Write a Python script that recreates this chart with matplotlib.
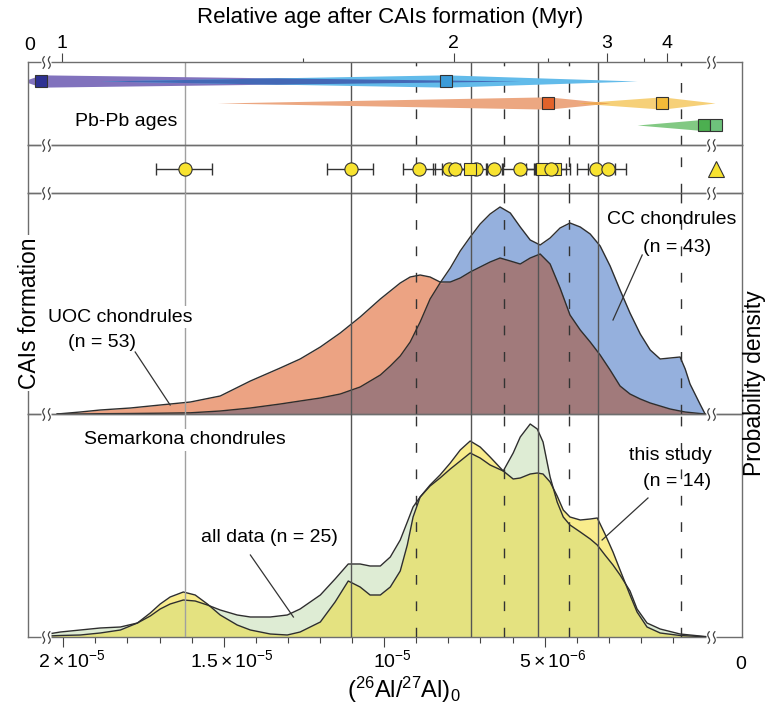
import numpy as np
import matplotlib.pyplot as plt
from matplotlib.path import Path
from matplotlib.ticker import FixedLocator, NullFormatter

plt.rcParams['font.family'] = ['Liberation Sans', 'DejaVu Sans']
plt.rcParams['mathtext.fontset'] = 'custom'
plt.rcParams['mathtext.rm'] = 'Liberation Sans'
plt.rcParams['mathtext.it'] = 'Liberation Sans:italic'
plt.rcParams['mathtext.bf'] = 'Liberation Sans:bold'
plt.rcParams['mathtext.default'] = 'regular'

E = 1e-6   # every (26Al/27Al)0 value below is in units of 1e-6

# relative age scale: (26Al/27Al)0 = R0 * exp(-t / tau)
R0 = 51.3
TAU = 1.064
age_ticks = [1, 2, 3, 4]
age_minor = [1.5, 2.5, 3.5]

ratio_ticks = [20, 15, 10, 5]
ratio_labels = [r'$2\times10^{-5}$', r'$1.5\times10^{-5}$', r'$10^{-5}$', r'$5\times10^{-6}$']

# reference lines through all panels
solid_lines = [16.20, 11.03, 7.29, 5.20, 3.33]
dashed_lines = [9.00, 6.26, 4.24, 0.75]

# Pb-Pb ages: spindles (row, best value, left tail, right tail)
pb_row = [1, 1, 2, 2, 3]
pb_best = [20.69, 8.07, 4.89, 1.34, -0.15]
pb_left = [21.25, 18.85, 15.20, 3.99, 2.12]
pb_right = [5.76, 2.12, 2.96, -0.31, -0.50]
pb_fill = ['#8172bd', '#62bbea', '#eca781', '#f6d078', '#82c983']
# Pb-Pb best-value squares
sq_val = [20.69, 8.07, 4.89, 1.34, 0.03, -0.34]
sq_row = [1, 1, 2, 2, 3, 3]
sq_col = ['#2e3192', '#3b9bd8', '#e2622a', '#f3bb38', '#4caf50', '#6ec27c']

# Al-Mg chondrule data (value, upper, lower) in draw order
pt_val = [16.20, 11.03, 8.91, 7.98, 7.79, 7.13, 7.32, 6.57, 5.76, 4.67, 5.08, 4.80, 3.40, 3.02]
pt_hi = [17.04, 11.71, 9.41, 8.47, 8.19, 7.45, 7.63, 6.82, 6.23, 5.14, 5.45, 5.26, 3.99, 3.58]
pt_lo = [15.30, 10.28, 8.41, 7.48, 7.38, 6.82, 7.01, 6.32, 5.23, 4.17, 4.58, 4.27, 2.80, 2.40]
pt_mk = ['o', 'o', 'o', 'o', 'o', 'o', 's', 'o', 'o', 's', 's', 'o', 'o', 'o']
tri_val = -0.34

# probability densities: CC vs UOC chondrules
cc_x = [20.19, 19.47, 18.85, 17.91, 16.98, 16.04, 15.11, 14.17, 13.24, 12.62, 11.99, 11.37,
        10.75, 10.12, 9.81, 9.50, 9.19, 8.88, 8.57, 8.26, 7.94, 7.63, 7.32, 7.01, 6.70,
        6.39, 6.07, 5.76, 5.45, 5.14, 4.83, 4.52, 4.21, 3.89, 3.58, 3.27, 2.96, 2.65,
        2.34, 2.02, 1.71, 1.40, 1.09, 0.78, 0.62, 0.47, 0.16, 0.00]
uoc_h = [0, 2, 4, 6, 9, 12, 18, 33, 46, 55, 67, 81, 97, 115, 123, 131, 137, 139, 137, 132,
         132, 136, 142, 147, 152, 156, 153, 150, 156, 160, 150, 126, 99, 84, 72, 59, 44,
         28, 20, 15, 11, 8, 5, 3, 2, 1.5, 0.5, 0]
cc_h = [0, 0, 0.3, 0.5, 0.8, 1.2, 3, 6, 10, 13, 16, 20, 27, 39, 48, 58, 72, 92, 115, 131,
        146, 163, 177, 190, 200, 207, 201, 187, 174, 169, 176, 186, 191, 187, 180, 168,
        148, 124, 101, 80, 64, 55, 56, 57, 45, 30, 10, 0]

# probability densities: Semarkona chondrules
sem_x = [20.47, 20.09, 19.47, 18.85, 18.22, 17.69, 17.29, 16.98, 16.67, 16.26, 15.89,
         15.51, 15.11, 14.58, 14.17, 13.55, 13.02, 12.62, 11.99, 11.53, 11.12, 10.75,
         10.44, 10.12, 9.81, 9.50, 9.28, 9.10, 8.88, 8.57, 8.26, 7.94, 7.63, 7.32, 7.01,
         6.70, 6.29, 5.98, 5.76, 5.45, 5.23, 5.05, 4.83, 4.61, 4.42, 4.21, 3.89, 3.58,
         3.36, 3.12, 2.87, 2.65, 2.34, 2.12, 1.81, 1.40, 0.78, 0.16, -0.16]
this_h = [1, 1.5, 2, 4, 7, 14, 24, 33, 40, 45, 42, 33, 22, 12, 7, 3, 2, 5, 15, 35, 56, 50,
          42, 42, 50, 66, 92, 120, 140, 152, 162, 174, 187, 196, 190, 180, 166, 158, 159,
          163, 164, 163, 155, 141, 127, 120, 117, 118, 119, 103, 85, 67, 42, 25, 10, 4,
          1.5, 0.5, 0]
all_h = [3, 5, 7, 9, 10, 14, 21, 28, 33, 37, 36, 32, 27, 22, 20, 20, 22, 28, 42, 58, 73,
         73, 71, 71, 80, 97, 115, 130, 140, 151, 159, 168, 176, 184, 179, 172, 166, 184,
         200, 213, 208, 195, 160, 135, 120, 112, 105, 98, 92, 82, 72, 62, 46, 28, 14, 8,
         3, 1, 0]


def px(x, y):
    return x / 781, 1 - y / 715


fig = plt.figure(figsize=(7.81, 7.15), dpi=100)


def band(top, bot):
    return [28 / 781, 1 - bot / 715, 714 / 781, (bot - top) / 715]


axA = fig.add_axes(band(62, 145))
axB = fig.add_axes(band(145, 193))
axC = fig.add_axes(band(193, 414))
axD = fig.add_axes(band(414, 637))
axes = [axA, axB, axC, axD]

for i, ax in enumerate(axes):
    ax.set_xlim(21.1 * E, -1.15 * E)
    ax.set_facecolor('none')
    for s in ax.spines.values():
        s.set_color('#6e6e6e')
        s.set_linewidth(1.0)
    ax.tick_params(which='both', left=False, right=False, labelleft=False,
                   bottom=False, labelbottom=False, top=False, labeltop=False)
    zl = 1 if i < 2 else 4
    for k, v in enumerate(solid_lines):
        ax.axvline(v * E, color='#a0a0a0' if k == 0 else '#555555', lw=1.0, zorder=zl)
    for v in dashed_lines:
        ax.axvline(v * E, color='#333333', lw=1.0, ls=(0, (7, 12)), zorder=zl)

# ---- panel A: Pb-Pb ages ----
axA.set_ylim(3.91, 0.136)
xs = np.linspace(-1.2, 21.4, 3000)
HW = 0.28
hws = []
for i in range(len(pb_best)):
    hw = np.interp(xs, [pb_right[i], pb_best[i], pb_left[i]], [0, HW, 0], left=0, right=0)
    hws.append(hw)
    axA.fill_between(xs * E, pb_row[i] - hw, pb_row[i] + hw, where=hw > 0,
                     color=pb_fill[i], lw=0, zorder=2)
ov1 = np.minimum(hws[0], hws[1])
axA.fill_between(xs * E, 1 - ov1, 1 + ov1, where=ov1 > 0, color='#4368b6', lw=0, zorder=2)
ov2 = np.minimum(hws[2], hws[3])
axA.fill_between(xs * E, 2 - ov2, 2 + ov2, where=ov2 > 0, color='#eda553', lw=0, zorder=2)
for v, r, c in zip(sq_val, sq_row, sq_col):
    axA.plot(v * E, r, 's', ms=8, mfc=c, mec='#333333', mew=0.8, zorder=5, clip_on=False)

axA.tick_params(which='both', top=True, labeltop=True, direction='out', color='#444444')
axA.tick_params(which='major', length=6.5, width=0.8, pad=0.5, labelsize=14)
axA.tick_params(which='minor', length=3, width=0.8)
axA.xaxis.set_major_locator(FixedLocator([R0 * np.exp(-t / TAU) * E for t in age_ticks]))
axA.xaxis.set_minor_locator(FixedLocator([R0 * np.exp(-t / TAU) * E for t in age_minor]))
axA.set_xticklabels([str(t) for t in age_ticks])
axA.xaxis.set_minor_formatter(NullFormatter())
axA.annotate('0', xy=(0, 1), xycoords='axes fraction', xytext=(1.5, 5.5),
             textcoords='offset points', ha='center', va='bottom', fontsize=14)

# ---- panel B: Al-Mg data ----
axB.set_ylim(0, 1)
for v, hi, lo in zip(pt_val, pt_hi, pt_lo):
    axB.errorbar(v * E, 0.5, xerr=[[(hi - v) * E], [(v - lo) * E]], fmt='none',
                 ecolor='#333333', elinewidth=1.0, capsize=4.5, capthick=1.0, zorder=3)
for v, m in zip(pt_val, pt_mk):
    axB.plot(v * E, 0.5, m, ms=9.5 if m == 'o' else 8.5, mfc='#f8e330',
             mec='#333333', mew=0.8, zorder=4)
axB.plot(tri_val * E, 0.5, '^', ms=11, mfc='#f8e330', mec='#333333', mew=0.8, zorder=4)

# ---- panel C: CC vs UOC ----
cx = np.array(cc_x) * E
uoc = np.array(uoc_h)
cc = np.array(cc_h)
axC.set_ylim(0, 221)
axC.fill_between(cx, 0, cc, color='#95b0dd', lw=0, zorder=2)
axC.fill_between(cx, 0, uoc, color='#eca383', lw=0, zorder=2)
axC.fill_between(cx, 0, np.minimum(cc, uoc), color='#a17a7b', lw=0, zorder=2)
axC.plot(cx, cc, color='#2e2e2e', lw=1.0, zorder=3)
axC.plot(cx, uoc, color='#2e2e2e', lw=1.0, zorder=3)
axC.plot([17.76 * E, 16.67 * E], [62, 9], color='#333333', lw=0.9, zorder=5)
axC.plot([1.96 * E, 2.87 * E], [159, 94], color='#333333', lw=0.9, zorder=5)

# ---- panel D: Semarkona ----
sx = np.array(sem_x) * E
th = np.array(this_h)
al = np.array(all_h)
axD.set_ylim(0, 223)
axD.fill_between(sx, 0, al, color='#deecd4', lw=0, zorder=2)
axD.fill_between(sx, 0, th, color='#f9ec8c', lw=0, zorder=2)
axD.fill_between(sx, 0, np.minimum(al, th), color='#e4e280', lw=0, zorder=2)
axD.plot(sx, al, color='#2e2e2e', lw=1.0, zorder=3)
axD.plot(sx, th, color='#2e2e2e', lw=1.0, zorder=3)
axD.plot([14.17 * E, 12.83 * E], [82, 20], color='#333333', lw=0.9, zorder=5)
axD.plot([1.78 * E, 3.21 * E], [139, 97], color='#333333', lw=0.9, zorder=5)

axD.tick_params(which='both', bottom=True, direction='out', color='#444444', width=0.8)
axD.tick_params(which='major', length=7)
axD.tick_params(which='minor', length=4.3)
axD.xaxis.set_major_locator(FixedLocator([v * E for v in ratio_ticks]))
axD.xaxis.set_minor_locator(FixedLocator(list(np.arange(1, 21) * E)))
for v, lab in zip(ratio_ticks, ratio_labels):
    axD.annotate(lab, xy=(v * E, 0), xycoords=axD.get_xaxis_transform(), xytext=(6, -9),
                 textcoords='offset points', ha='center', va='top', fontsize=14)
axD.annotate('0', xy=(1, 0), xycoords='axes fraction', xytext=(-1, -14),
             textcoords='offset points', ha='center', va='top', fontsize=14)

# ---- axis breaks ----
t = np.linspace(-1, 1, 17)
verts, codes = [], []
for dx in (-0.45, 0.45):
    verts += list(zip(dx + 0.15 * t - 0.22 * np.sin(np.pi * t), t))
    codes += [Path.MOVETO] + [Path.LINETO] * (len(t) - 1)
brk = Path(verts, codes)
for ax, yv in [(axA, 1), (axB, 1), (axC, 1), (axD, 1), (axD, 0)]:
    for xv in (20.53, -0.19):
        ax.plot(xv * E, yv, 's', ms=7, mfc='white', mec='none',
                transform=ax.get_xaxis_transform(), clip_on=False, zorder=10)
        ax.plot(xv * E, yv, marker=brk, ms=9, mfc='none', mec='#444444', mew=0.9,
                transform=ax.get_xaxis_transform(), clip_on=False, zorder=11)

# ---- texts ----
wb = dict(facecolor='white', edgecolor='none', pad=1.5)
fig.text(*px(390, 17), 'Relative age after CAIs formation (Myr)', ha='center', va='center',
         fontsize=16)
fig.text(*px(404, 690), r'$(^{26}Al/^{27}Al)_0$', ha='center', va='center', fontsize=17)
fig.text(*px(30, 313), 'CAIs formation', rotation=90, ha='center', va='center',
         fontsize=16.5, bbox=wb)
fig.text(*px(755, 383), 'Probability density', rotation=90, ha='center', va='center',
         fontsize=16.5)
fig.text(*px(126, 122), 'Pb-Pb ages', ha='center', va='center', fontsize=14)
fig.text(*px(120, 317), 'UOC chondrules', ha='center', va='center', fontsize=14, bbox=wb)
fig.text(*px(102, 342), '(n = 53)', ha='center', va='center', fontsize=14)
fig.text(*px(672, 220), 'CC chondrules', ha='center', va='center', fontsize=14)
fig.text(*px(677, 247), '(n = 43)', ha='center', va='center', fontsize=14)
fig.text(*px(185, 440), 'Semarkona chondrules', ha='center', va='center', fontsize=14,
         bbox=wb)
fig.text(*px(269, 538), 'all data (n = 25)', ha='center', va='center', fontsize=14)
fig.text(*px(670, 455), 'this study', ha='center', va='center', fontsize=14)
fig.text(*px(677, 482), '(n = 14)', ha='center', va='center', fontsize=14)

fig.savefig('out.png', dpi=100)
